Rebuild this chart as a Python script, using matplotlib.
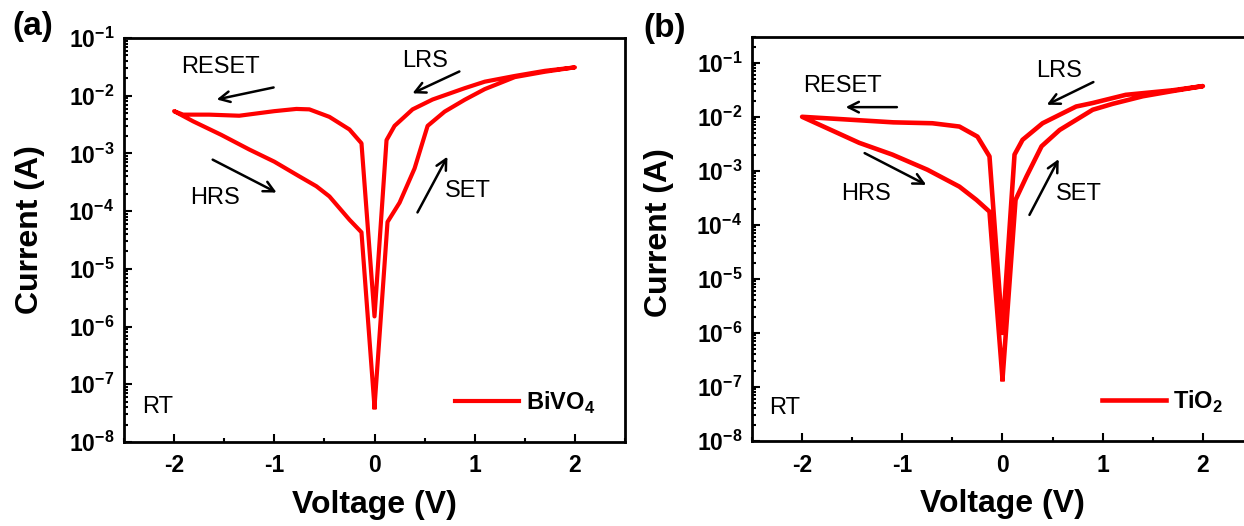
import numpy as np
import matplotlib.pyplot as plt
from matplotlib.ticker import FuncFormatter, LogLocator, MultipleLocator, NullFormatter

plt.rcParams['font.family'] = 'Liberation Sans'
plt.rcParams['font.weight'] = 'bold'
plt.rcParams['axes.unicode_minus'] = False
plt.rcParams['mathtext.fontset'] = 'custom'
plt.rcParams['mathtext.rm'] = 'Liberation Sans'
plt.rcParams['mathtext.bf'] = 'Liberation Sans:bold'

# sweep order: 0 -> 2 (SET), 2 -> 0 (LRS), 0 -> -2 (RESET), -2 -> 0 (HRS)
bivo4_v = [0.00, 0.13, 0.25, 0.40, 0.53, 0.70, 0.90, 1.10, 1.40, 1.70, 2.00,
           1.70, 1.40, 1.10, 0.90, 0.58, 0.38, 0.20, 0.12, 0.00,
           -0.13, -0.25, -0.45, -0.65, -0.78, -1.00, -1.35, -1.65, -1.91, -2.00,
           -1.81, -1.53, -1.25, -1.00, -0.75, -0.58, -0.45, -0.25, -0.13, 0.00]
bivo4_i = [4.0e-8, 6.5e-5, 1.4e-4, 5.5e-4, 3.0e-3, 5.3e-3, 8.5e-3, 1.3e-2, 2.1e-2, 2.6e-2, 3.1e-2,
           2.7e-2, 2.2e-2, 1.75e-2, 1.35e-2, 8.6e-3, 5.8e-3, 3.0e-3, 1.7e-3, 1.5e-6,
           1.5e-3, 2.6e-3, 4.3e-3, 5.8e-3, 5.9e-3, 5.4e-3, 4.5e-3, 4.7e-3, 4.7e-3, 5.4e-3,
           3.6e-3, 2.1e-3, 1.17e-3, 7.2e-4, 4.0e-4, 2.7e-4, 1.8e-4, 7.1e-5, 4.3e-5, 4.0e-8]

tio2_v = [0.00, 0.13, 0.24, 0.39, 0.57, 0.90, 1.10, 1.40, 1.70, 2.00,
          1.70, 1.23, 0.90, 0.735, 0.40, 0.20, 0.12, 0.00,
          -0.13, -0.25, -0.43, -0.70, -1.09, -1.59, -2.00,
          -1.43, -1.10, -0.75, -0.43, -0.26, -0.13, 0.00]
tio2_i = [1.4e-7, 2.9e-4, 7.9e-4, 2.85e-3, 5.7e-3, 1.35e-2, 1.74e-2, 2.4e-2, 3.0e-2, 3.7e-2,
          3.1e-2, 2.55e-2, 1.8e-2, 1.55e-2, 7.6e-3, 3.75e-3, 2.0e-3, 1.0e-6,
          1.85e-3, 4.3e-3, 6.6e-3, 7.6e-3, 7.9e-3, 9.0e-3, 1.0e-2,
          3.3e-3, 2.0e-3, 1.05e-3, 5.1e-4, 2.9e-4, 1.76e-4, 1.4e-7]

# labels: (text, x, y)   arrows: (x0, y0, x1, y1)
notes_a = [('RESET', -1.93, 3.1e-2), ('LRS', 0.28, 4.0e-2), ('HRS', -1.84, 1.7e-4),
           ('SET', 0.70, 2.2e-4), ('RT', -2.32, 4.1e-8)]
arrows_a = [(-1.007, 1.39e-2, -1.575, 8.6e-3), (0.847, 2.63e-2, 0.379, 1.1e-2),
            (-1.615, 7.8e-4, -0.977, 2.1e-4), (0.429, 9.5e-5, 0.728, 8.8e-4)]
notes_b = [('RESET', -1.99, 3.67e-2), ('LRS', 0.34, 6.97e-2), ('HRS', -1.615, 3.75e-4),
           ('SET', 0.535, 3.8e-4), ('RT', -2.325, 4.0e-8)]
arrows_b = [(-1.054, 1.51e-2, -1.565, 1.51e-2), (0.907, 4.4e-2, 0.442, 1.67e-2),
            (-1.376, 2.13e-3, -0.761, 5.5e-4), (0.269, 1.53e-4, 0.561, 1.65e-3)]

W, H = 1244, 526
fig = plt.figure(figsize=(W / 100, H / 100), dpi=100)
ax1 = fig.add_axes([124 / W, (H - 442) / H, 501 / W, 404 / H])
ax2 = fig.add_axes([752 / W, (H - 441) / H, 501 / W, 404 / H])


def style(ax, v, i, name, ylim, notes, arrows, lw):
    ax.plot(v, i, color='#ff0000', lw=lw, label=name)
    ax.set_yscale('log')
    ax.set_xlim(-2.5, 2.5)
    ax.set_ylim(*ylim)
    ax.xaxis.set_major_locator(MultipleLocator(1))
    ax.xaxis.set_minor_locator(MultipleLocator(0.5))
    ax.xaxis.set_major_formatter(FuncFormatter(lambda x, p: '%d' % round(x)))
    ax.yaxis.set_major_locator(LogLocator(base=10, numticks=20))
    ax.yaxis.set_minor_locator(LogLocator(base=10, subs=np.arange(2, 10), numticks=20))
    ax.yaxis.set_minor_formatter(NullFormatter())
    ax.yaxis.set_major_formatter(FuncFormatter(
        lambda y, p: r'$\mathbf{10^{%d}}$' % round(np.log10(y))))
    ax.tick_params(which='both', direction='in', width=1.5)
    ax.tick_params(which='major', length=6, labelsize=16.5, pad=7)
    ax.tick_params(which='minor', length=3)
    ax.tick_params(axis='x', pad=9)
    for s in ax.spines.values():
        s.set_linewidth(2)
    ax.set_xlabel('Voltage (V)', fontsize=23, fontweight='bold')
    ax.set_ylabel('Current (A)', fontsize=23, fontweight='bold')
    ax.xaxis.set_label_coords(0.5, -0.12)
    for t, x, y in notes:
        ax.text(x, y, t, fontsize=17, fontweight='normal', ha='left', va='center')
    for x0, y0, x1, y1 in arrows:
        ax.annotate('', xy=(x1, y1), xytext=(x0, y0),
                    arrowprops=dict(arrowstyle='->,head_length=0.75,head_width=0.38',
                                    lw=1.8, color='black', shrinkA=0, shrinkB=0))
    ax.legend(loc='center right', bbox_to_anchor=(0.94, 0.097), frameon=False,
              handlelength=2.7, handletextpad=0.3, borderpad=0, borderaxespad=0,
              prop={'size': 17, 'weight': 'bold'})


style(ax1, bivo4_v, bivo4_i, r'BiVO$_\mathrm{4}$', (1e-8, 1e-1), notes_a, arrows_a, 3)
style(ax2, tio2_v, tio2_i, r'TiO$_\mathrm{2}$', (1e-8, 3e-1), notes_b, arrows_b, 3.3)
ax1.yaxis.set_label_coords(-0.158, 0.525)
ax2.yaxis.set_label_coords(-0.156, 0.515)

fig.text(12 / W, 1 - 26 / H, '(a)', fontsize=24, fontweight='bold', ha='left', va='center')
fig.text(643 / W, 1 - 28 / H, '(b)', fontsize=24, fontweight='bold', ha='left', va='center')

fig.savefig('out.png', dpi=100)
